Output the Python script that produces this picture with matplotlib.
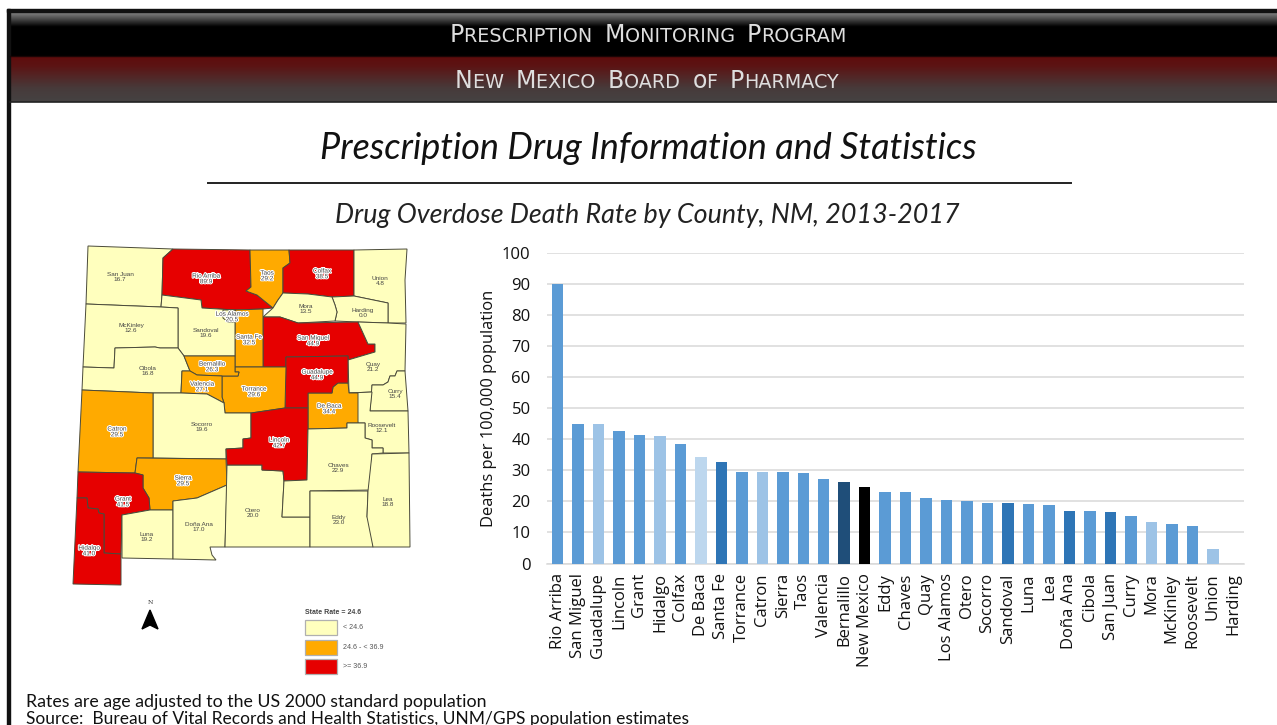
import numpy as np
import matplotlib
matplotlib.use("Agg")
import matplotlib.pyplot as plt
import matplotlib.patheffects as pe
from matplotlib.patches import Polygon, Rectangle

W, H = 1277, 725

# chart data
counties = ["Rio Arriba", "San Miguel", "Guadalupe", "Lincoln", "Grant", "Hidalgo", "Colfax",
            "De Baca", "Santa Fe", "Torrance", "Catron", "Sierra", "Taos", "Valencia",
            "Bernalillo", "New Mexico", "Eddy", "Chaves", "Quay", "Los Alamos", "Otero",
            "Socorro", "Sandoval", "Luna", "Lea", "Doña Ana", "Cibola", "San Juan", "Curry",
            "Mora", "McKinley", "Roosevelt", "Union", "Harding"]
rates = [89.9, 44.9, 44.9, 42.7, 41.5, 41.0, 38.5, 34.4, 32.5, 29.6, 29.5, 29.5, 29.2, 27.1,
         26.3, 24.6, 23.0, 22.9, 21.2, 20.5, 20.0, 19.6, 19.6, 19.2, 18.8, 17.0, 16.8, 16.7,
         15.4, 13.5, 12.6, 12.1, 4.8, 0.0]
bar_shades = ["m", "m", "l", "m", "m", "l", "m", "x", "d", "m", "l", "m", "m", "m",
              "n", "k", "m", "m", "m", "m", "m", "m", "d", "m", "m", "d", "m", "d",
              "m", "l", "m", "m", "l", "m"]
shade_colors = {"m": "#5B9BD5", "l": "#9DC3E6", "x": "#BDD7EE", "d": "#2E75B6", "n": "#1F4E79", "k": "#000000"}
state_rate = 24.6
high_cut = 36.9
map_colors = ["#FFFFBE", "#FFAA00", "#E60000"]
legend_labels = ["< 24.6", "24.6 - < 36.9", ">= 36.9"]

# county outlines and label anchors, in image pixels
outlines = {
    "San Juan": [(88, 246), (173, 249), (163, 258), (162, 295), (161, 307), (86, 304)],
    "Rio Arriba": [(173, 249), (250, 250), (251, 287), (246, 291), (257, 295), (273, 308), (263, 309), (235, 310),
                   (202, 308), (201, 300), (162, 295), (163, 258)],
    "Taos": [(250, 250), (289, 250), (290, 263), (283, 268), (283, 293), (278, 300), (273, 308), (257, 295),
             (246, 291), (251, 287)],
    "Colfax": [(289, 250), (354, 250), (354, 296), (332, 297), (308, 294), (283, 293), (283, 268), (290, 263)],
    "Union": [(354, 250), (407, 249), (405, 280), (406, 323), (388, 323), (388, 303), (354, 296)],
    "Harding": [(332, 297), (354, 296), (388, 303), (388, 323), (358, 322), (335, 321), (337, 312), (335, 305)],
    "Mora": [(283, 293), (308, 294), (332, 297), (335, 305), (337, 312), (335, 321), (298, 323), (280, 317),
             (263, 317), (273, 308), (278, 300)],
    "San Miguel": [(263, 317), (280, 317), (298, 323), (358, 322), (368, 344), (375, 344), (375, 352), (348, 360),
                   (348, 356), (286, 357), (286, 367), (263, 367)],
    "Quay": [(388, 323), (406, 324), (405, 371), (397, 371), (395, 376), (390, 376), (388, 382), (383, 385),
             (372, 385), (372, 392), (349, 393), (348, 360), (375, 352), (375, 344), (368, 344), (358, 322)],
    "Curry": [(405, 371), (408, 411), (370, 411), (372, 385), (383, 385), (388, 382), (390, 376), (395, 376),
              (397, 371)],
    "Roosevelt": [(349, 393), (372, 392), (370, 411), (408, 411), (409, 453), (383, 453), (383, 448),
                  (372, 448), (372, 440), (365, 438), (365, 423), (358, 423)],
    "De Baca": [(338, 383), (348, 383), (349, 393), (358, 393), (358, 423), (347, 423), (347, 428), (308, 429),
                (308, 393), (332, 393), (333, 387)],
    "Guadalupe": [(286, 357), (348, 356), (348, 383), (338, 383), (333, 387), (332, 393), (308, 393), (308, 408),
                  (285, 408)],
    "Santa Fe": [(235, 310), (263, 309), (263, 367), (235, 367)],
    "Torrance": [(235, 367), (286, 367), (285, 408), (251, 413), (225, 413), (224, 403), (222, 397), (222, 376),
                 (238, 376), (239, 372), (235, 372)],
    "Sandoval": [(162, 295), (201, 300), (202, 308), (235, 310), (235, 356), (184, 356), (178, 348), (178, 308),
                 (161, 307)],
    "Los Alamos": [(223, 310), (235, 310), (235, 322), (228, 322), (223, 318)],
    "McKinley": [(86, 304), (161, 307), (178, 308), (178, 348), (160, 348), (155, 347), (115, 348), (114, 368),
                 (83, 367)],
    "Cibola": [(115, 348), (155, 347), (160, 348), (178, 348), (184, 356), (190, 371), (182, 371), (181, 393),
               (153, 393), (82, 390), (83, 367), (114, 368)],
    "Bernalillo": [(184, 356), (235, 356), (235, 372), (239, 372), (238, 376), (222, 376), (197, 375), (190, 371)],
    "Valencia": [(182, 371), (190, 371), (197, 375), (222, 376), (222, 397), (224, 403), (207, 394), (181, 393)],
    "Socorro": [(153, 393), (181, 393), (207, 394), (224, 403), (225, 413), (251, 413), (251, 438), (243, 439),
                (243, 448), (226, 449), (226, 459), (153, 458)],
    "Catron": [(82, 390), (153, 393), (153, 458), (137, 458), (135, 473), (78, 472)],
    "Sierra": [(137, 458), (226, 459), (227, 485), (197, 498), (173, 501), (173, 510), (150, 510), (149, 498),
               (143, 488), (143, 475), (135, 473)],
    "Grant": [(78, 472), (135, 473), (143, 475), (143, 488), (149, 498), (150, 510), (122, 515), (121, 554),
              (104, 553), (104, 514), (99, 513), (98, 509), (88, 508), (87, 498), (77, 498)],
    "Hidalgo": [(77, 498), (87, 498), (88, 508), (98, 509), (99, 513), (104, 514), (104, 553), (121, 554),
                (121, 585), (73, 584)],
    "Luna": [(122, 515), (150, 510), (173, 510), (173, 559), (122, 558)],
    "Doña Ana": [(173, 501), (197, 498), (227, 485), (225, 547), (210, 547), (212, 555), (216, 560), (173, 559)],
    "Otero": [(227, 465), (262, 465), (262, 470), (283, 471), (284, 481), (282, 517), (310, 517), (310, 547),
              (225, 547)],
    "Lincoln": [(251, 413), (285, 408), (308, 408), (308, 429), (307, 480), (284, 481), (283, 471), (262, 470),
                (262, 465), (227, 465), (226, 449), (243, 448), (243, 439), (251, 438)],
    "Chaves": [(308, 429), (347, 428), (347, 423), (365, 423), (365, 438), (372, 440), (372, 448), (383, 448),
               (383, 453), (372, 454), (370, 490), (310, 491), (310, 517), (282, 517), (284, 481), (307, 480)],
    "Eddy": [(310, 491), (368, 491), (367, 517), (373, 517), (373, 547), (310, 547)],
    "Lea": [(372, 454), (409, 453), (410, 547), (373, 547), (367, 517), (368, 491)],
}
name_xy = {
    "San Juan": (120, 277), "Rio Arriba": (206, 279), "Taos": (267, 276), "Colfax": (322, 274), "Union": (380, 281),
    "Mora": (306, 309), "Harding": (363, 313), "Los Alamos": (232, 317), "McKinley": (131, 328),
    "Sandoval": (206, 333), "Santa Fe": (249, 340), "San Miguel": (313, 341), "Quay": (373, 367),
    "Curry": (395, 394), "Cibola": (148, 371), "Bernalillo": (212, 367), "Valencia": (202, 387),
    "Torrance": (254, 392), "Guadalupe": (317, 375), "De Baca": (329, 409), "Roosevelt": (382, 428),
    "Catron": (117, 432), "Socorro": (202, 427), "Lincoln": (279, 443), "Chaves": (338, 468), "Sierra": (183, 481),
    "Otero": (253, 513), "Grant": (123, 502), "Lea": (388, 502), "Eddy": (339, 520), "Doña Ana": (199, 527),
    "Luna": (147, 537), "Hidalgo": (89, 551),
}
halo_counties = ["Rio Arriba", "San Miguel", "Guadalupe", "Lincoln", "Grant", "Hidalgo", "Colfax", "De Baca",
                 "Santa Fe", "Torrance", "Catron", "Sierra", "Taos", "Valencia", "Bernalillo", "Los Alamos"]


def map_color(rate):
    if rate < state_rate:
        return map_colors[0]
    if rate < high_cut:
        return map_colors[1]
    return map_colors[2]


def small_caps(ax, words, x_center, y, big, small, color="#dedede"):
    # no small caps font here: first letter big, the rest small and upper case, placed by measured width
    r = ax.figure.canvas.get_renderer()
    pieces = []
    for i, w in enumerate(words):
        pieces.append((w[0], big))
        pieces.append((w[1:].upper() + ("  " if i < len(words) - 1 else ""), small))
    arts, total = [], 0
    for s, size in pieces:
        t = ax.text(0, y, s.replace(" ", "\u00a0"), fontsize=size, color=color, family="DejaVu Sans", va="baseline",
                    ha="left")
        wid = t.get_window_extent(r).width
        arts.append((t, wid))
        total += wid
    cur = x_center - total / 2
    for t, wid in arts:
        t.set_x(cur)
        cur += wid


fig = plt.figure(figsize=(W / 100, H / 100), dpi=100, facecolor="white")
bg = fig.add_axes([0, 0, 1, 1])
bg.axis("off")

# header bands
bg.imshow(np.interp(np.linspace(0, 1, 45), [0, 0.33, 1], [0.52, 0, 0])[:, None], cmap="gray", vmin=0, vmax=1,
          extent=(10, W, 56, 12), aspect="auto", zorder=1)
t = np.linspace(0, 1, 45)
red_band = np.stack([np.interp(t, [0, 0.2, 0.7, 1], [0.37, 0.36, 0.28, 0.27]),
                     np.interp(t, [0, 0.2, 0.7, 1], [0.05, 0.08, 0.23, 0.26]),
                     np.interp(t, [0, 0.2, 0.7, 1], [0.05, 0.08, 0.23, 0.26])], axis=1)[:, None, :]
bg.imshow(red_band, extent=(10, W, 102, 57), aspect="auto", zorder=1)
bg.set_xlim(0, W)
bg.set_ylim(H, 0)
bg.add_patch(Rectangle((7, 9), W, 3, color="#111111", zorder=2))
bg.add_patch(Rectangle((7, 9), 3, H, color="#111111", zorder=2))
bg.plot([10, W], [101.8, 101.8], color="#222222", lw=1.2, zorder=2)
bg.plot([10, W], [56.3, 56.3], color="#1a0505", lw=1, zorder=2)

small_caps(bg, ["Prescription", "Monitoring", "Program"], 648, 42, 17, 13.8)
small_caps(bg, ["New", "Mexico", "Board", "of", "Pharmacy"], 647, 88, 17, 13.8)

bg.text(648, 148, "Prescription Drug Information and Statistics", fontsize=25.9, style="italic", family="Lato",
        ha="center", va="center", color="#111111")
bg.plot([208, 1071], [183, 183], color="#222222", lw=1.4)
bg.text(647, 215, "Drug Overdose Death Rate by County, NM, 2013-2017", fontsize=19.4, style="italic", family="Lato",
        ha="center", va="center", color="#222222")
bg.text(26, 702, "Rates are age adjusted to the US 2000 standard population", fontsize=12.8, family="Lato",
        ha="left", va="center", color="#111111")
bg.text(26, 719, "Source:  Bureau of Vital Records and Health Statistics, UNM/GPS population estimates", fontsize=12.5,
        family="Lato", ha="left", va="center", color="#111111")

# county map
rate_of = dict(zip(counties, rates))
for name, pts in outlines.items():
    bg.add_patch(Polygon(pts, closed=True, facecolor=map_color(rate_of[name]), edgecolor="#4a4a3a", lw=0.7, zorder=3))
for name, (x, y) in name_xy.items():
    effects = [pe.withStroke(linewidth=1.5, foreground="white")] if name in halo_counties else []
    bg.text(x, y, f"{name}\n{rate_of[name]:.1f}", fontsize=4.6, family="Liberation Sans", ha="center", va="center",
            color="#444444", linespacing=1.15, path_effects=effects, zorder=4)

# north arrow
bg.add_patch(Polygon([(150, 610), (158, 629), (150, 625), (142, 629)], closed=True, color="black", zorder=4))
bg.text(150, 603, "N", fontsize=4.5, family="DejaVu Serif", ha="center", va="center", color="#333333")

# map legend
bg.text(305, 612, "State Rate = 24.6", fontsize=5, weight="bold", family="Liberation Sans", ha="left", va="center",
        color="#444444")
for i, lab in enumerate(legend_labels):
    y0 = 620 + i * 19.5
    bg.add_patch(Rectangle((305, y0), 32, 15.3, facecolor=map_colors[i], edgecolor="#b0b0b0", lw=0.9, zorder=3))
    bg.text(343, y0 + 7.6, lab, fontsize=5.1, family="Liberation Sans", ha="left", va="center", color="#555555")

# bar chart
ax = fig.add_axes([547.3 / W, 1 - 563.5 / H, (1243.5 - 547.3) / W, (563.5 - 252.7) / H])
ax.patch.set_alpha(0)
x = np.arange(len(counties))
ax.bar(x, rates, width=0.56, color=[shade_colors[s] for s in bar_shades], zorder=3)
ax.set_xlim(-0.5, len(counties) - 0.5)
ax.set_ylim(0, 100)
ax.set_yticks(range(0, 101, 10))
ax.set_xticks(x)
ax.set_xticklabels(counties, rotation=90, fontsize=12, family="Open Sans", color="#111111")
ax.tick_params(axis="both", length=0)
ax.tick_params(axis="x", pad=7)
ax.tick_params(axis="y", pad=12, labelsize=12, labelcolor="#111111")
for lb in ax.get_yticklabels():
    lb.set_family("Open Sans")
ax.grid(axis="y", color="#D9D9D9", lw=1.1, zorder=0)
ax.set_axisbelow(True)
for k in ["top", "right", "left"]:
    ax.spines[k].set_visible(False)
ax.spines["bottom"].set_color("#D9D9D9")
ax.spines["bottom"].set_linewidth(1.1)
ax.set_ylabel("Deaths per 100,000 population", fontsize=11.9, family="Open Sans", color="#111111")
ax.yaxis.set_label_coords((497 - 547.3) / (1243.5 - 547.3), (563.5 - 408) / (563.5 - 252.7))

fig.savefig("out.png", dpi=100)
